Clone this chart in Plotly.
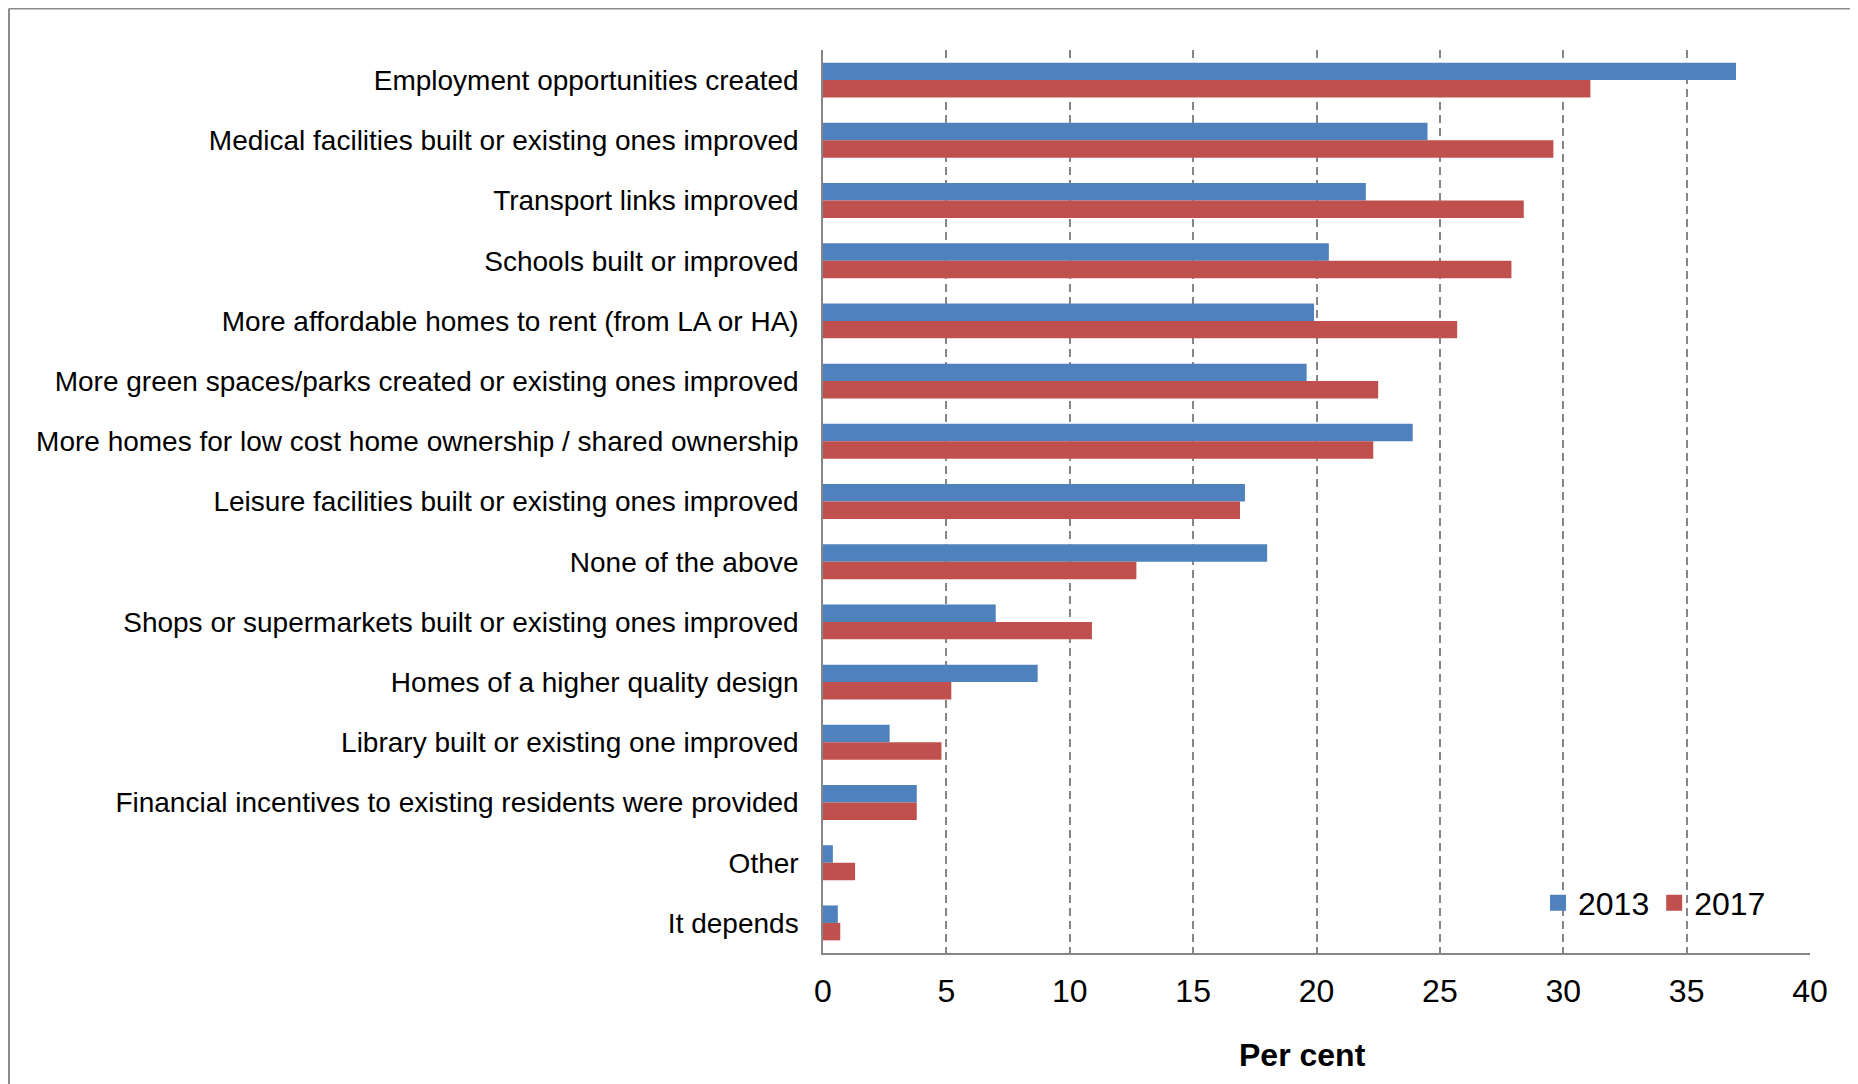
import plotly.graph_objects as go

categories = [
    "Employment opportunities created",
    "Medical facilities built or existing ones improved",
    "Transport links improved",
    "Schools built or improved",
    "More affordable homes to rent (from LA or HA)",
    "More green spaces/parks created or existing ones improved",
    "More homes for low cost home ownership / shared ownership",
    "Leisure facilities built or existing ones improved",
    "None of the above",
    "Shops or supermarkets built or existing ones improved",
    "Homes of a higher quality design",
    "Library built or existing one improved",
    "Financial incentives to existing residents were provided",
    "Other",
    "It depends",
]
values_2013 = [37.0, 24.5, 22.0, 20.5, 19.9, 19.6, 23.9, 17.1, 18.0, 7.0, 8.7, 2.7, 3.8, 0.4, 0.6]
values_2017 = [31.1, 29.6, 28.4, 27.9, 25.7, 22.5, 22.3, 16.9, 12.7, 10.9, 5.2, 4.8, 3.8, 1.3, 0.7]
series_names = ["2013", "2017"]
x_ticks = [0, 5, 10, 15, 20, 25, 30, 35, 40]
x_title = "Per cent"

BLUE = "#4F81BD"
RED = "#C0504D"
GRID = "#868686"
FONT = "Liberation Sans, Arial, sans-serif"

# the page body adds an 8px margin; compensate so the picture lands where the reference has it
OFF = 8
W, H = 1858, 1084
L = 823 - OFF
T = 50 - OFF
R = W - (1810 - OFF)
B = H - (953 - OFF)
pw, ph = W - L - R, H - T - B

def px_x(x):
    return (x - OFF - L) / pw

def px_y(y):
    return (H - B - (y - OFF)) / ph

fig = go.Figure()
for name, vals, col in [(series_names[0], values_2013, BLUE), (series_names[1], values_2017, RED)]:
    fig.add_trace(go.Bar(
        y=categories, x=vals, orientation="h", name=name,
        marker=dict(color=col, line=dict(width=0)),
        showlegend=False,
    ))
# legend entries with larger square swatches
for name, col in [(series_names[0], BLUE), (series_names[1], RED)]:
    fig.add_trace(go.Scatter(
        x=[None], y=[None], mode="markers", name=name,
        marker=dict(symbol="square", size=17, color=col),
        showlegend=True,
    ))

fig.update_layout(
    width=W, height=H,
    margin=dict(l=L, r=R, t=T, b=B, autoexpand=False),
    paper_bgcolor="white", plot_bgcolor="white",
    barmode="group", bargap=0.42, bargroupgap=0,
    font=dict(family=FONT, color="black"),
    showlegend=True,
    legend=dict(
        orientation="h", x=px_x(1538), y=px_y(903), xanchor="left", yanchor="middle",
        font=dict(size=32, family=FONT, color="black"),
        bgcolor="rgba(0,0,0,0)", borderwidth=0, itemwidth=30,
        tracegroupgap=0,
    ),
    xaxis=dict(
        range=[0, 40], tickvals=x_ticks, ticktext=[str(t) for t in x_ticks],
        showgrid=True, gridcolor=GRID, gridwidth=1.5, griddash="8px,5px",
        showline=True, linecolor=GRID, linewidth=1.5,
        ticks="", ticklabelstandoff=9,
        tickfont=dict(size=32, family=FONT, color="black"),
        zeroline=False, fixedrange=True,
    ),
    yaxis=dict(
        autorange="reversed", type="category",
        showgrid=False, showline=True, linecolor=GRID, linewidth=1.5,
        ticks="", ticklabelstandoff=17,
        tickfont=dict(size=28, family=FONT, color="black"),
        zeroline=False, fixedrange=True,
    ),
    annotations=[dict(
        text="<b>" + x_title + "</b>", xref="paper", yref="paper",
        x=px_x(1302), y=px_y(1055), xanchor="center", yanchor="middle",
        showarrow=False, font=dict(size=32, family=FONT, color="black"),
    )],
    shapes=[
        dict(type="line", xref="paper", yref="paper",
             x0=px_x(9), x1=px_x(9), y0=px_y(1100), y1=px_y(8.5),
             line=dict(color="#8C8C8C", width=2)),
        dict(type="line", xref="paper", yref="paper",
             x0=px_x(9), x1=px_x(1870), y0=px_y(8.5), y1=px_y(8.5),
             line=dict(color="#8C8C8C", width=2)),
    ],
)

fig.write_html("out.html")
